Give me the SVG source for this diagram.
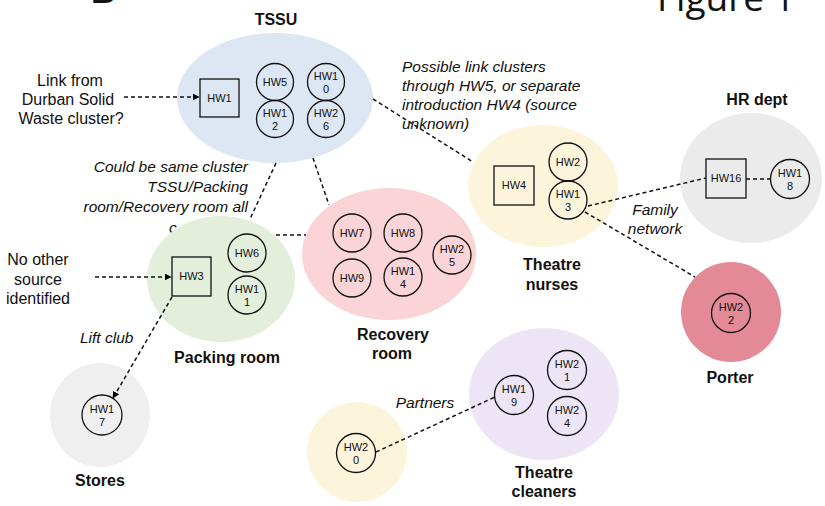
<svg xmlns="http://www.w3.org/2000/svg" width="825" height="506" viewBox="0 0 825 506">
<defs>
<marker id="arr" viewBox="0 0 10 10" refX="9" refY="5" markerWidth="7" markerHeight="7" markerUnits="userSpaceOnUse" orient="auto">
<path d="M0,0 L10,5 L0,10 z" fill="#000"/>
</marker>
</defs>
<style>
.hw{fill:none;stroke:#111;stroke-width:1.3}
.t{font-family:"Liberation Sans",Arial,sans-serif;font-size:11px;fill:#111;text-anchor:middle}
.lbl{font-family:"Liberation Sans",Arial,sans-serif;font-size:16px;font-weight:bold;fill:#111;text-anchor:middle}
.note{font-family:"Liberation Sans",Arial,sans-serif;font-size:15.5px;font-style:italic;fill:#111}
.plain{font-family:"Liberation Sans",Arial,sans-serif;font-size:16px;fill:#111;text-anchor:middle}
.dash{fill:none;stroke:#111;stroke-width:1.5;stroke-dasharray:4 3}
</style>
<rect width="825" height="506" fill="#fff"/>
<text x="91" y="3" font-family="Liberation Sans,Arial,sans-serif" font-size="34" font-weight="bold" fill="#111">B</text>
<text x="657" y="11" font-family="Open Sans,sans-serif" font-size="37" fill="#111">Figure 1</text>
<text class="note" x="169" y="233">c</text>

<g id="tssu"><ellipse cx="275" cy="98" rx="98" ry="65" fill="#dce7f3"/><text class="lbl" x="276" y="25">TSSU</text></g>
<g id="packing-room"><ellipse cx="221" cy="279" rx="74" ry="63" fill="#e3eedb"/><text class="lbl" x="227" y="363">Packing room</text></g>
<g id="recovery-room"><ellipse cx="389" cy="254" rx="87" ry="66" fill="#fad4d6"/><text class="lbl" x="393" y="340">Recovery</text><text class="lbl" x="392" y="359">room</text></g>
<g id="theatre-nurses"><ellipse cx="543" cy="186" rx="75" ry="61" fill="#fdf4dc"/><text class="lbl" x="552" y="270">Theatre</text><text class="lbl" x="552" y="290">nurses</text></g>
<g id="hr-dept"><ellipse cx="751" cy="178" rx="71" ry="65" fill="#ebebeb"/><text class="lbl" x="757" y="105">HR dept</text></g>
<g id="porter"><circle cx="731" cy="312" r="50" fill="#e48a97"/><text class="lbl" x="730" y="383">Porter</text></g>
<g id="stores"><ellipse cx="100" cy="415" rx="50" ry="52" fill="#efefef"/><text class="lbl" x="100" y="486">Stores</text></g>
<g id="theatre-cleaners"><ellipse cx="544" cy="394" rx="75" ry="66" fill="#ede5f5"/><text class="lbl" x="544" y="478">Theatre</text><text class="lbl" x="544" y="497">cleaners</text></g>
<g id="partner-group"><circle cx="357" cy="452" r="50" fill="#fdf4dc"/></g>

<g id="connectors">
<line class="dash" x1="124" y1="97" x2="199" y2="97" marker-end="url(#arr)"/>
<line class="dash" x1="95" y1="277" x2="171" y2="277" marker-end="url(#arr)"/>
<line class="dash" x1="172" y1="297" x2="113" y2="398" marker-end="url(#arr)"/>
<line class="dash" x1="276" y1="163" x2="250" y2="219"/>
<line class="dash" x1="313" y1="158" x2="329" y2="205"/>
<line class="dash" x1="276" y1="235" x2="306" y2="235"/>
<line class="dash" x1="373" y1="99" x2="473" y2="162"/>
<line class="dash" x1="588" y1="206" x2="706" y2="178"/>
<line class="dash" x1="746" y1="179" x2="771" y2="179"/>
<line class="dash" x1="585" y1="212" x2="695" y2="277"/>
<line class="dash" x1="376" y1="452" x2="495" y2="397"/>
</g>

<g id="hw1"><rect class="hw" x="200" y="79" width="39" height="38"/><text class="t" x="219.5" y="102">HW1</text></g>
<g id="hw5"><circle class="hw" cx="275" cy="82" r="18.5"/><text class="t" x="275" y="86">HW5</text></g>
<g id="hw10"><circle class="hw" cx="326" cy="82" r="18.5"/><text class="t" x="326" y="80">HW1</text><text class="t" x="326" y="93">0</text></g>
<g id="hw12"><circle class="hw" cx="275" cy="119" r="18.5"/><text class="t" x="275" y="117">HW1</text><text class="t" x="275" y="130">2</text></g>
<g id="hw26"><circle class="hw" cx="326" cy="119" r="18.5"/><text class="t" x="326" y="117">HW2</text><text class="t" x="326" y="130">6</text></g>

<g id="hw3"><rect class="hw" x="172" y="257" width="39" height="39"/><text class="t" x="191.5" y="280">HW3</text></g>
<g id="hw6"><circle class="hw" cx="247" cy="253" r="19"/><text class="t" x="247" y="257">HW6</text></g>
<g id="hw11"><circle class="hw" cx="247" cy="295" r="19"/><text class="t" x="247" y="293">HW1</text><text class="t" x="247" y="306">1</text></g>

<g id="hw7"><circle class="hw" cx="352" cy="233" r="19"/><text class="t" x="352" y="237">HW7</text></g>
<g id="hw8"><circle class="hw" cx="403" cy="233" r="19"/><text class="t" x="403" y="237">HW8</text></g>
<g id="hw9"><circle class="hw" cx="352" cy="278" r="19"/><text class="t" x="352" y="282">HW9</text></g>
<g id="hw14"><circle class="hw" cx="403" cy="277" r="19"/><text class="t" x="403" y="275">HW1</text><text class="t" x="403" y="288">4</text></g>
<g id="hw25"><circle class="hw" cx="452" cy="255" r="19"/><text class="t" x="452" y="253">HW2</text><text class="t" x="452" y="266">5</text></g>

<g id="hw4"><rect class="hw" x="494" y="166" width="40" height="39"/><text class="t" x="514" y="189">HW4</text></g>
<g id="hw2"><circle class="hw" cx="568" cy="162" r="19"/><text class="t" x="568" y="166">HW2</text></g>
<g id="hw13"><circle class="hw" cx="568" cy="200" r="19"/><text class="t" x="568" y="198">HW1</text><text class="t" x="568" y="211">3</text></g>

<g id="hw16"><rect class="hw" x="706" y="159" width="40" height="39"/><text class="t" x="726" y="182">HW16</text></g>
<g id="hw18"><circle class="hw" cx="790" cy="179" r="19.5"/><text class="t" x="790" y="177">HW1</text><text class="t" x="790" y="190">8</text></g>

<g id="hw22"><circle class="hw" cx="731" cy="313" r="19.5"/><text class="t" x="731" y="311">HW2</text><text class="t" x="731" y="324">2</text></g>
<g id="hw17"><circle class="hw" cx="102" cy="415" r="20"/><text class="t" x="102" y="413">HW1</text><text class="t" x="102" y="426">7</text></g>

<g id="hw19"><circle class="hw" cx="514" cy="395" r="19.5"/><text class="t" x="514" y="393">HW1</text><text class="t" x="514" y="406">9</text></g>
<g id="hw21"><circle class="hw" cx="567" cy="370" r="19.5"/><text class="t" x="567" y="368">HW2</text><text class="t" x="567" y="381">1</text></g>
<g id="hw24"><circle class="hw" cx="567" cy="416" r="19.5"/><text class="t" x="567" y="414">HW2</text><text class="t" x="567" y="427">4</text></g>
<g id="hw20"><circle class="hw" cx="356" cy="453" r="19.5"/><text class="t" x="356" y="451">HW2</text><text class="t" x="356" y="464">0</text></g>

<g id="annotations">
<text class="plain" x="70" y="86">Link from</text>
<text class="plain" x="68" y="105">Durban Solid</text>
<text class="plain" x="71" y="124">Waste cluster?</text>
<text class="plain" x="38" y="265">No other</text>
<text class="plain" x="38" y="285">source</text>
<text class="plain" x="38" y="304">identified</text>
<text class="note" x="248" y="172" text-anchor="end">Could be same cluster</text>
<text class="note" x="248" y="192" text-anchor="end">TSSU/Packing</text>
<text class="note" x="248" y="212" text-anchor="end">room/Recovery room all</text>
<text class="note" x="80" y="343">Lift club</text>
<text class="note" x="402" y="72">Possible link clusters</text>
<text class="note" x="402" y="91">through HW5, or separate</text>
<text class="note" x="402" y="110">introduction HW4 (source</text>
<text class="note" x="402" y="129">unknown)</text>
<text class="note" x="655" y="215" text-anchor="middle">Family</text>
<text class="note" x="655" y="234" text-anchor="middle">network</text>
<text class="note" x="425" y="408" text-anchor="middle">Partners</text>
</g>
</svg>
